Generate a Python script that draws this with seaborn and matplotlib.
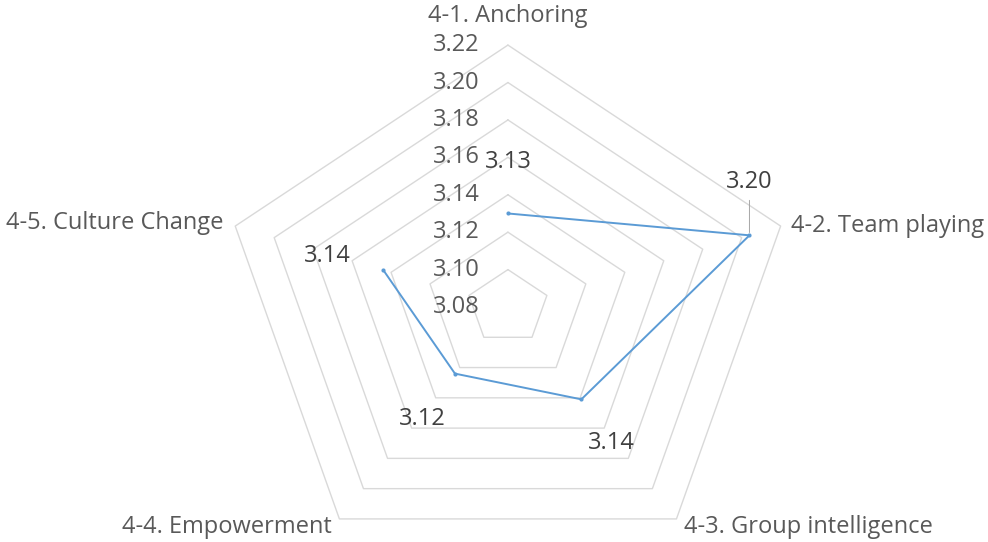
import numpy as np
import pandas as pd
import matplotlib.pyplot as plt
import seaborn as sns

# radar data
categories = ["4-1. Anchoring", "4-2. Team playing", "4-3. Group intelligence",
              "4-4. Empowerment", "4-5. Culture Change"]
scores = [3.130, 3.204, 3.141, 3.124, 3.144]
score_labels = ["3.13", "3.20", "3.14", "3.12", "3.14"]
ring_values = [3.10, 3.12, 3.14, 3.16, 3.18, 3.20, 3.22]
tick_values = [3.08, 3.10, 3.12, 3.14, 3.16, 3.18, 3.20, 3.22]
tick_labels = ["3.08", "3.10", "3.12", "3.14", "3.16", "3.18", "3.20", "3.22"]
r_min = 3.08

sns.set_style("white")
plt.rcParams['font.family'] = ['Open Sans', 'DejaVu Sans']

n = len(categories)
theta = np.pi / 2 - 2 * np.pi * np.arange(n) / n


def to_xy(vals):
    r = np.asarray(vals) - r_min
    return r * np.cos(theta), r * np.sin(theta)


fig = plt.figure(figsize=(9.88, 5.42), dpi=100)
ax = fig.add_axes([0, 0, 1, 1])

# pentagon grid
for v in ring_values:
    gx, gy = to_xy([v] * n)
    ax.plot(np.append(gx, gx[0]), np.append(gy, gy[0]), color="#D9D9D9", lw=1.0, zorder=1)

# data series
x, y = to_xy(scores)
df = pd.DataFrame({"x": np.append(x, x[0]), "y": np.append(y, y[0])})
sns.lineplot(data=df, x="x", y="y", sort=False, color="#5B9BD5", lw=1.4,
             marker="o", markersize=3, markeredgewidth=0, ax=ax, zorder=3)

fs = 17

# radial tick labels
for v, t in zip(tick_values, tick_labels):
    ax.annotate(t, xy=(0, v - r_min), xytext=(-28, 0), textcoords="offset pixels",
                ha="right", va="center", fontsize=fs, color="#595959")

# category labels
ox, oy = to_xy([ring_values[-1]] * n)
cat_offsets = [(0, 29), (10, 0), (8, -8), (-8, -8), (-12, 3)]
cat_ha = ["center", "left", "left", "right", "right"]
for i, c in enumerate(categories):
    ax.annotate(c, xy=(ox[i], oy[i]), xytext=cat_offsets[i], textcoords="offset pixels",
                ha=cat_ha[i], va="center", fontsize=fs, color="#595959")

# data labels
lab_offsets = [(0, 51), (0, 53), (30, -44), (-33, -45), (-56, 14)]
for i, t in enumerate(score_labels):
    arrow = None
    if i == 1:
        arrow = dict(arrowstyle="-", color="#A6A6A6", lw=0.7, shrinkA=2, shrinkB=2)
    ax.annotate(t, xy=(x[i], y[i]), xytext=lab_offsets[i], textcoords="offset pixels",
                ha="center", va="center", fontsize=fs, color="#404040", arrowprops=arrow)

ax.set_xlim(-0.248, 0.2344)
ax.set_ylim(-0.1256, 0.1641)
ax.set_aspect("auto")
ax.axis("off")

fig.savefig("out.png", dpi=100)
